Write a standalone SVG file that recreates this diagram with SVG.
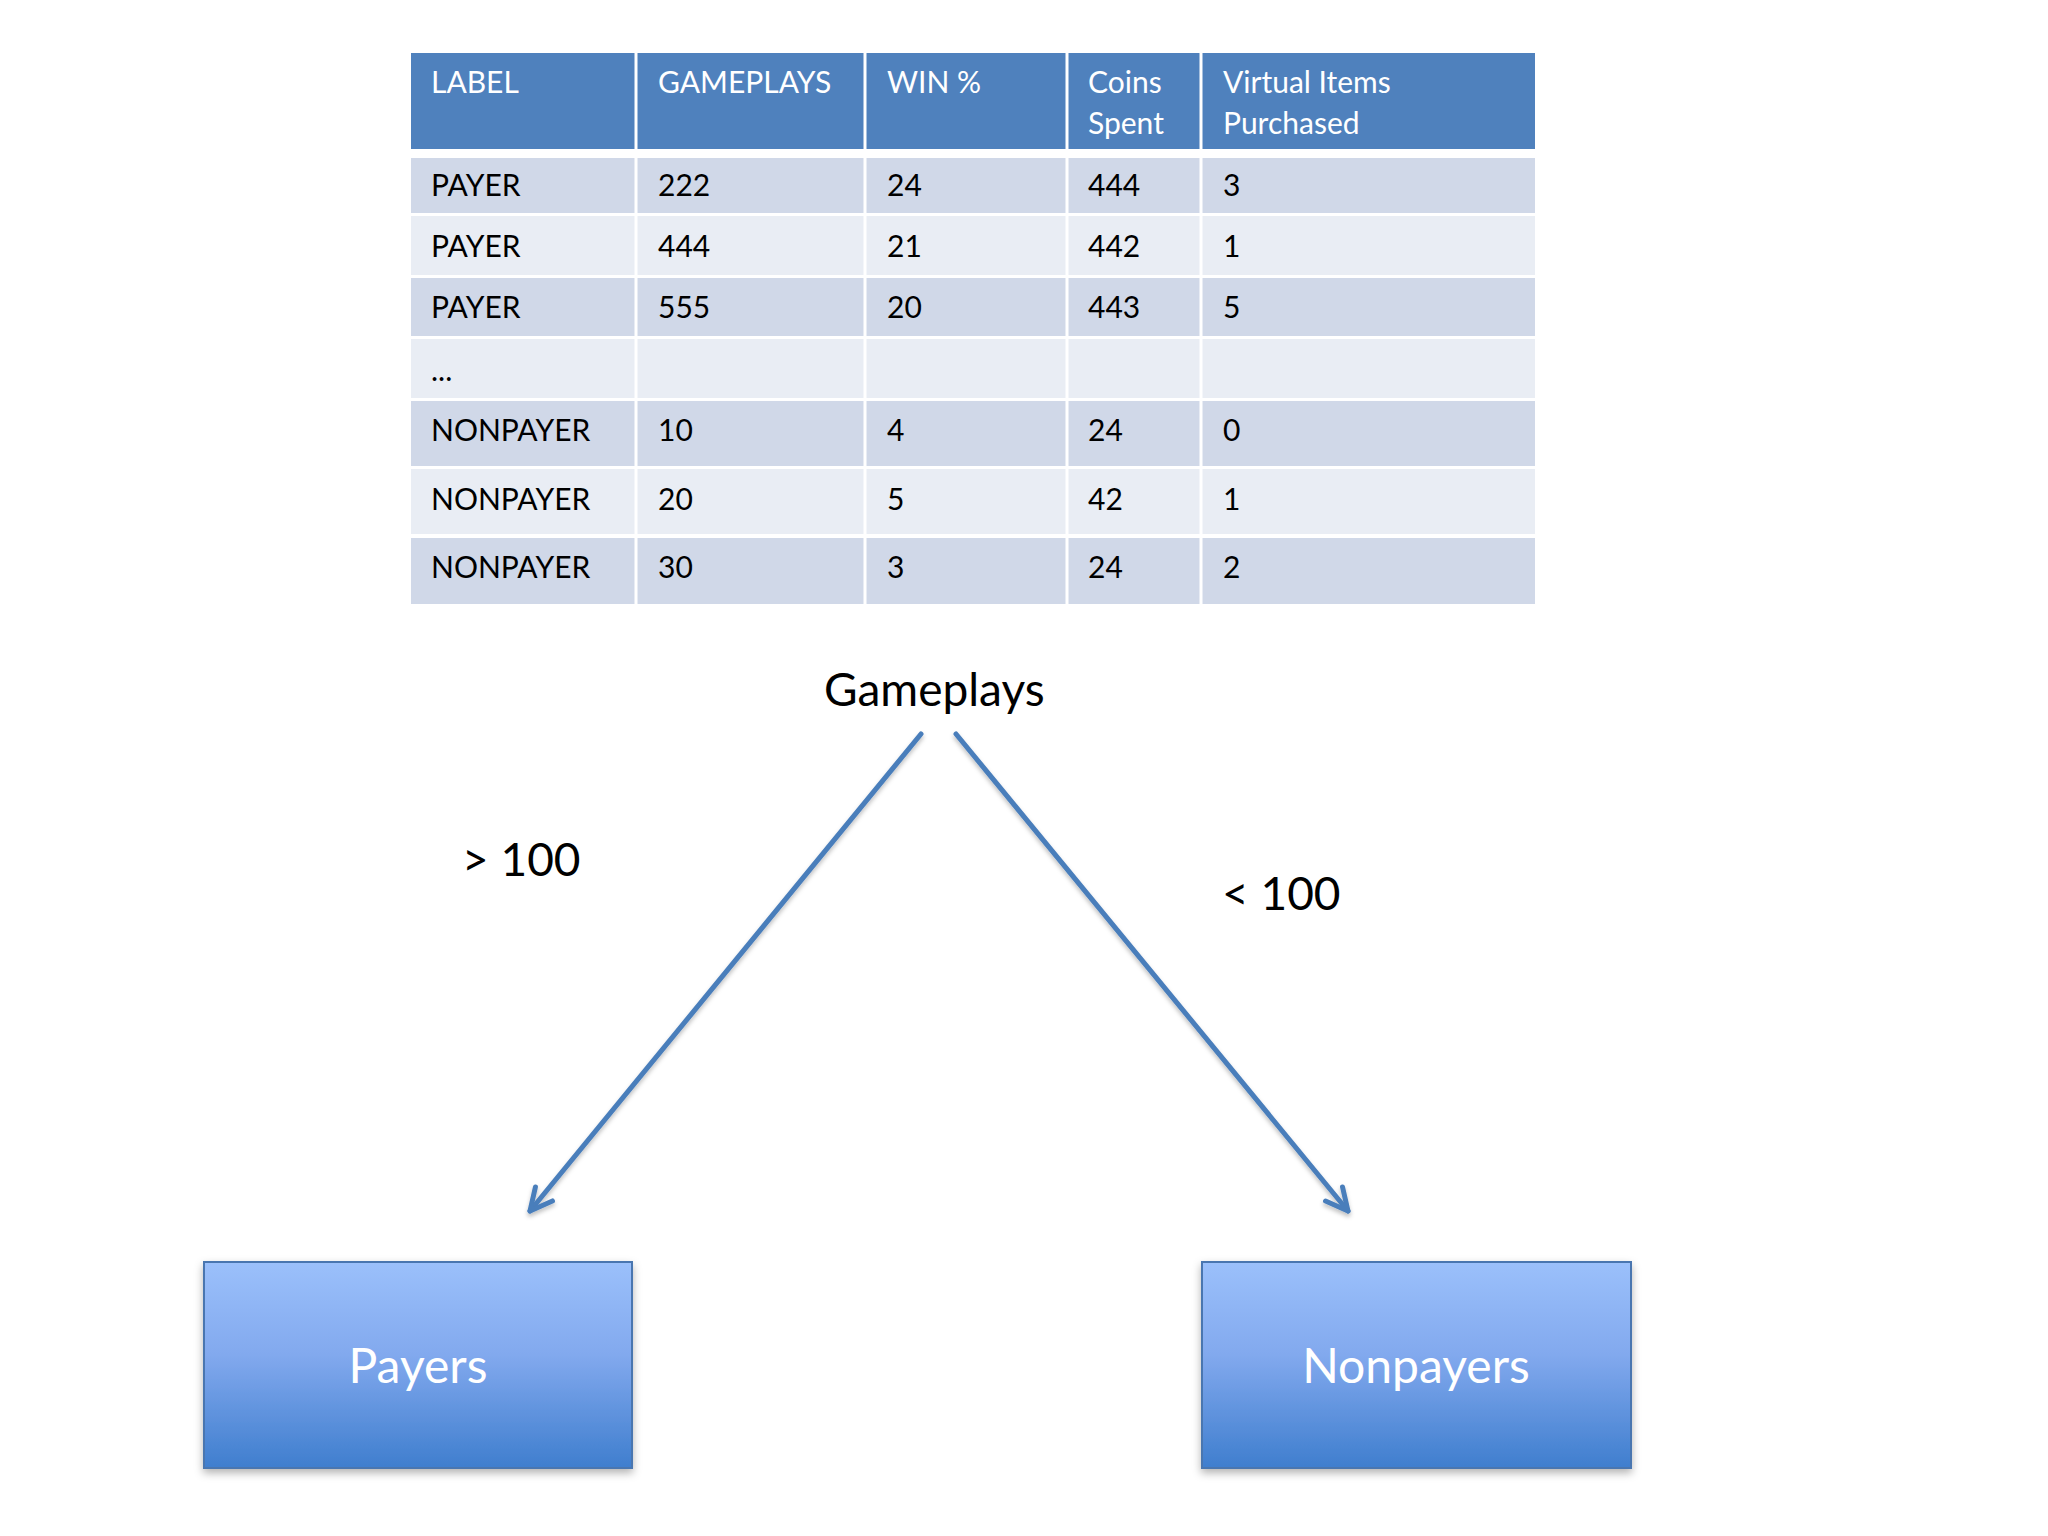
<svg xmlns="http://www.w3.org/2000/svg" width="2048" height="1536" viewBox="0 0 2048 1536">
<style>
.hd{fill:#4F81BD}
.r1{fill:#D0D8E8}
.r2{fill:#E9EDF4}
.th{font-family:Lato,"Open Sans","Liberation Sans",sans-serif;font-size:30px;fill:#FFFFFF}
.td{font-family:Lato,"Open Sans","Liberation Sans",sans-serif;font-size:30px;fill:#000000}
.big{font-family:Lato,"Open Sans","Liberation Sans",sans-serif;font-size:46px;fill:#000000}
.box{fill:url(#boxGrad);stroke:#4A76B0;stroke-width:2;filter:url(#shadow)}
.boxt{font-family:Lato,"Open Sans","Liberation Sans",sans-serif;font-size:48px;fill:#FFFFFF;text-anchor:middle}
.conn{stroke:#4A7EBB;stroke-width:5;fill:none;stroke-linecap:round;marker-end:url(#arrow);filter:url(#lshadow)}
</style>
<defs>
<linearGradient id="boxGrad" x1="0" y1="0" x2="0" y2="1">
<stop offset="0" stop-color="#9BC0FB"/>
<stop offset="0.45" stop-color="#82A9EE"/>
<stop offset="1" stop-color="#3F7ECE"/>
</linearGradient>
<filter id="shadow" x="-10%" y="-10%" width="120%" height="130%">
<feDropShadow dx="0" dy="4" stdDeviation="4" flood-color="#000" flood-opacity="0.3"/>
</filter>
<filter id="lshadow" x="-20%" y="-20%" width="140%" height="140%">
<feDropShadow dx="0" dy="3" stdDeviation="2" flood-color="#000" flood-opacity="0.25"/>
</filter>
<marker id="arrow" markerUnits="userSpaceOnUse" viewBox="-30 -20 40 40" refX="0" refY="0" markerWidth="40" markerHeight="40" orient="auto">
<path d="M -22 -11 L 0 0 L -22 11" fill="none" stroke="#4A7EBB" stroke-width="5" stroke-linecap="round" stroke-linejoin="round"/>
</marker>
</defs>
<rect width="2048" height="1536" fill="#FFFFFF"/>

<g id="table">
<rect x="411" y="53" width="1124" height="96" fill="#4F81BD"/>
<rect x="411" y="158" width="1124" height="55" class="r1"/>
<rect x="411" y="216" width="1124" height="59" class="r2"/>
<rect x="411" y="278" width="1124" height="58" class="r1"/>
<rect x="411" y="339" width="1124" height="59" class="r2"/>
<rect x="411" y="401" width="1124" height="65" class="r1"/>
<rect x="411" y="469" width="1124" height="65" class="r2"/>
<rect x="411" y="538" width="1124" height="66" class="r1"/>
<g stroke="#FFFFFF" stroke-width="3">
<line x1="636" y1="53" x2="636" y2="604"/>
<line x1="865" y1="53" x2="865" y2="604"/>
<line x1="1067" y1="53" x2="1067" y2="604"/>
<line x1="1201" y1="53" x2="1201" y2="604"/>
</g>
<text class="th" x="431" y="93">LABEL</text>
<text class="th" x="658" y="93">GAMEPLAYS</text>
<text class="th" x="887" y="93">WIN %</text>
<text class="th" x="1088" y="93">Coins</text>
<text class="th" x="1088" y="134">Spent</text>
<text class="th" x="1223" y="93">Virtual Items</text>
<text class="th" x="1223" y="134">Purchased</text>

<text class="td" x="431" y="196">PAYER</text>
<text class="td" x="658" y="196">222</text>
<text class="td" x="887" y="196">24</text>
<text class="td" x="1088" y="196">444</text>
<text class="td" x="1223" y="196">3</text>

<text class="td" x="431" y="257">PAYER</text>
<text class="td" x="658" y="257">444</text>
<text class="td" x="887" y="257">21</text>
<text class="td" x="1088" y="257">442</text>
<text class="td" x="1223" y="257">1</text>

<text class="td" x="431" y="318">PAYER</text>
<text class="td" x="658" y="318">555</text>
<text class="td" x="887" y="318">20</text>
<text class="td" x="1088" y="318">443</text>
<text class="td" x="1223" y="318">5</text>

<text class="td" x="431" y="381">...</text>

<text class="td" x="431" y="441">NONPAYER</text>
<text class="td" x="658" y="441">10</text>
<text class="td" x="887" y="441">4</text>
<text class="td" x="1088" y="441">24</text>
<text class="td" x="1223" y="441">0</text>

<text class="td" x="431" y="510">NONPAYER</text>
<text class="td" x="658" y="510">20</text>
<text class="td" x="887" y="510">5</text>
<text class="td" x="1088" y="510">42</text>
<text class="td" x="1223" y="510">1</text>

<text class="td" x="431" y="578">NONPAYER</text>
<text class="td" x="658" y="578">30</text>
<text class="td" x="887" y="578">3</text>
<text class="td" x="1088" y="578">24</text>
<text class="td" x="1223" y="578">2</text>
</g>

<g id="root">
<text class="big" x="824" y="706">Gameplays</text>
</g>

<g id="connectors">
<line class="conn" x1="921" y1="734" x2="530" y2="1211"/>
<line class="conn" x1="956" y1="734" x2="1348" y2="1211"/>
<text class="big" x="462" y="876">&gt; 100</text>
<text class="big" x="1222" y="910">&lt; 100</text>
</g>

<g id="payers">
<rect class="box" x="204" y="1262" width="428" height="206"/>
<text class="boxt" x="418" y="1383">Payers</text>
</g>

<g id="nonpayers">
<rect class="box" x="1202" y="1262" width="429" height="206"/>
<text class="boxt" x="1416" y="1383">Nonpayers</text>
</g>
</svg>
